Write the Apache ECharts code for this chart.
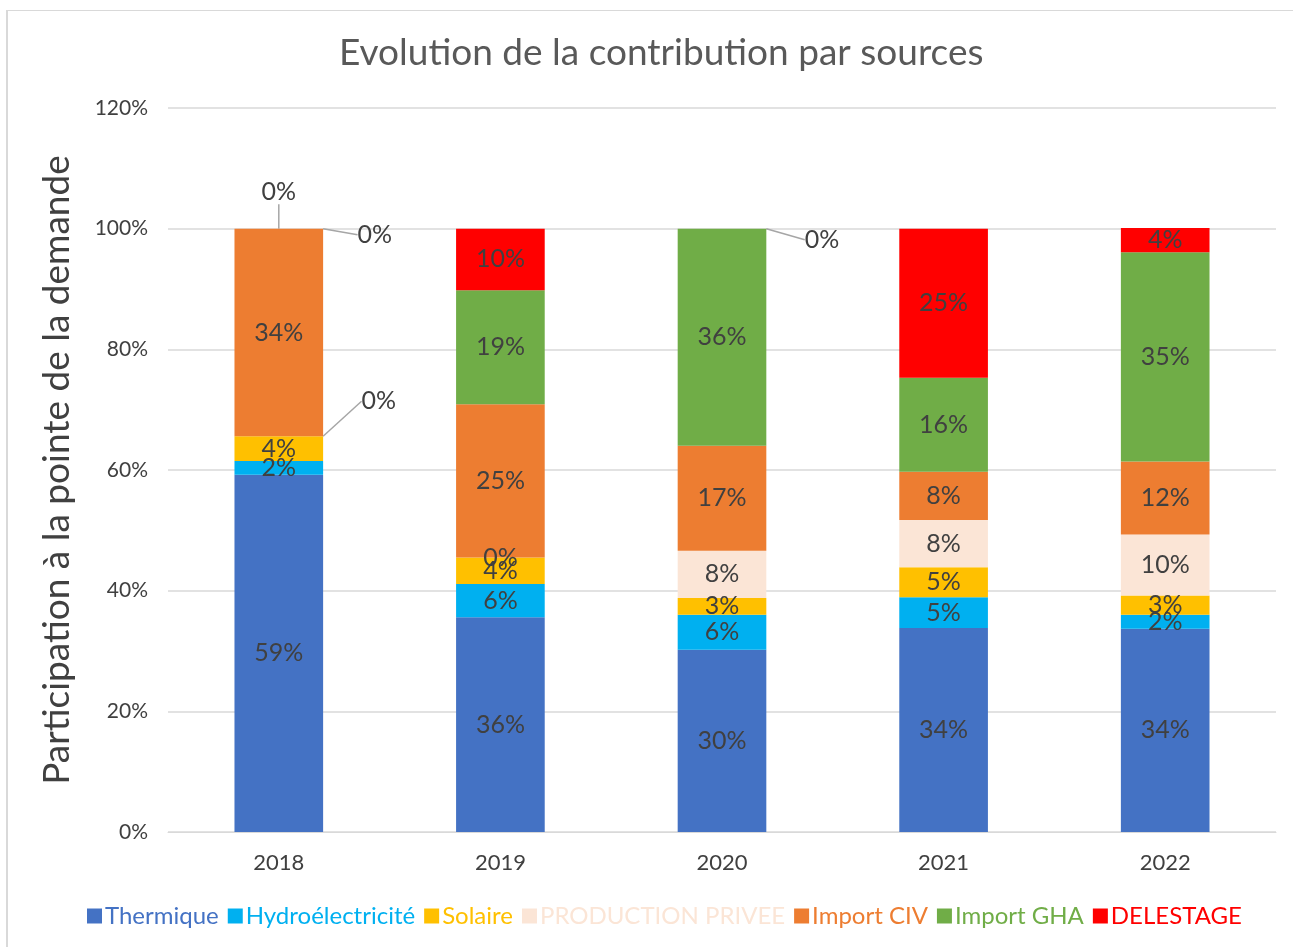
<!DOCTYPE html>
<html lang="fr">
<head>
    <meta charset="UTF-8">
    <script src="https://cdn.jsdelivr.net/npm/echarts@6/dist/echarts.min.js"></script>
    <title>Evolution de la contribution par sources</title>
</head>
<body style="margin:0; background:#fff;">
<div style="position:absolute; left:6px; top:10px; width:1300px; height:950px; border-left:2px solid #D9D9D9; border-top:1px solid #D9D9D9;"></div>
<div id="container" style="position:absolute; left:0; top:0; width:1293px; height:947px;"></div>
<script>
    // années
    let years = ['2018', '2019', '2020', '2021', '2022'];
    let yTicks = [0, 20, 40, 60, 80, 100, 120];

    // parts en % de la pointe
    let thermique = [59.2, 35.6, 30.2, 33.8, 33.7];
    let hydro = [2.3, 5.5, 5.8, 5.1, 2.3];
    let solaire = [4.1, 4.4, 2.8, 5.0, 3.2];
    let privee = [0, 0, 7.8, 7.8, 10.1];
    let importCiv = [34.4, 25.4, 17.4, 8.0, 12.1];
    let importGha = [0, 18.9, 36.0, 15.6, 34.7];
    let delestage = [0, 10.2, 0, 24.7, 4.0];

    let names = ['Thermique', 'Hydroélectricité', 'Solaire', 'PRODUCTION PRIVEE', 'Import CIV', 'Import GHA', 'DELESTAGE'];
    let colors = ['#4472C4', '#00B0F0', '#FFC000', '#FBE5D6', '#ED7D31', '#70AD47', '#FF0000'];
    let values = [thermique, hydro, solaire, privee, importCiv, importGha, delestage];

    let font = 'Lato, "Open Sans", sans-serif';

    // étiquettes 0% sorties de la barre (comme dans excel)
    let zeroLabels = {
        '3-0': [100, -35],
        '5-0': [0, -37],
        '6-0': [96, 6],
        '6-2': [100, 11]
    };

    let dom = document.getElementById('container');
    let myChart = echarts.init(dom);

    let series = values.map(function (arr, si) {
        return {
            name: names[si],
            type: 'bar',
            stack: 'total',
            barWidth: '40%',
            itemStyle: {color: colors[si]},
            label: {
                show: true,
                position: 'inside',
                color: '#404040',
                fontFamily: font,
                fontSize: 25,
                formatter: function (p) {
                    return Math.round(p.value) + '%';
                }
            },
            labelLine: {
                show: true,
                lineStyle: {color: '#A6A6A6', width: 1.5}
            },
            labelLayout: function (p) {
                let off = zeroLabels[p.seriesIndex + '-' + p.dataIndex];
                if (!off) return {};
                return {dx: off[0], dy: off[1]};
            },
            data: arr.map(function (v, i) {
                let key = si + '-' + i;
                if (v === 0 && !zeroLabels[key] && !(si === 3 && i === 1)) {
                    return {value: v, label: {show: false}};
                }
                return {value: v};
            })
        };
    });

    let option = {
        animation: false,
        title: {
            text: 'Evolution de la contribution par sources',
            left: 334,
            top: 30,
            textStyle: {
                fontFamily: font,
                fontSize: 37,
                fontWeight: 'normal',
                color: '#595959'
            }
        },
        legend: {
            bottom: 14,
            left: 82,
            itemWidth: 15,
            itemHeight: 15,
            itemGap: 9,
            icon: 'rect',
            data: names.map(function (n, i) {
                return {name: n, textStyle: {color: colors[i]}};
            }),
            textStyle: {fontFamily: font, fontSize: 24, padding: [0, 0, 0, -2]}
        },
        grid: {left: 168, right: 17, top: 108, bottom: 115},
        xAxis: {
            type: 'category',
            data: years,
            axisTick: {show: false},
            axisLine: {lineStyle: {color: '#D9D9D9'}},
            axisLabel: {color: '#404040', fontFamily: font, fontSize: 22, margin: 20}
        },
        yAxis: {
            type: 'value',
            min: yTicks[0],
            max: yTicks[yTicks.length - 1],
            interval: 20,
            name: 'Participation à la pointe de la demande',
            nameLocation: 'middle',
            nameGap: 92,
            nameTextStyle: {color: '#404040', fontFamily: font, fontSize: 37},
            axisLabel: {
                color: '#404040',
                fontFamily: font,
                fontSize: 21,
                margin: 20,
                formatter: '{value}%'
            },
            splitLine: {lineStyle: {color: '#D9D9D9', width: 1.5}}
        },
        series: series
    };

    myChart.setOption(option);
</script>
</body>
</html>
